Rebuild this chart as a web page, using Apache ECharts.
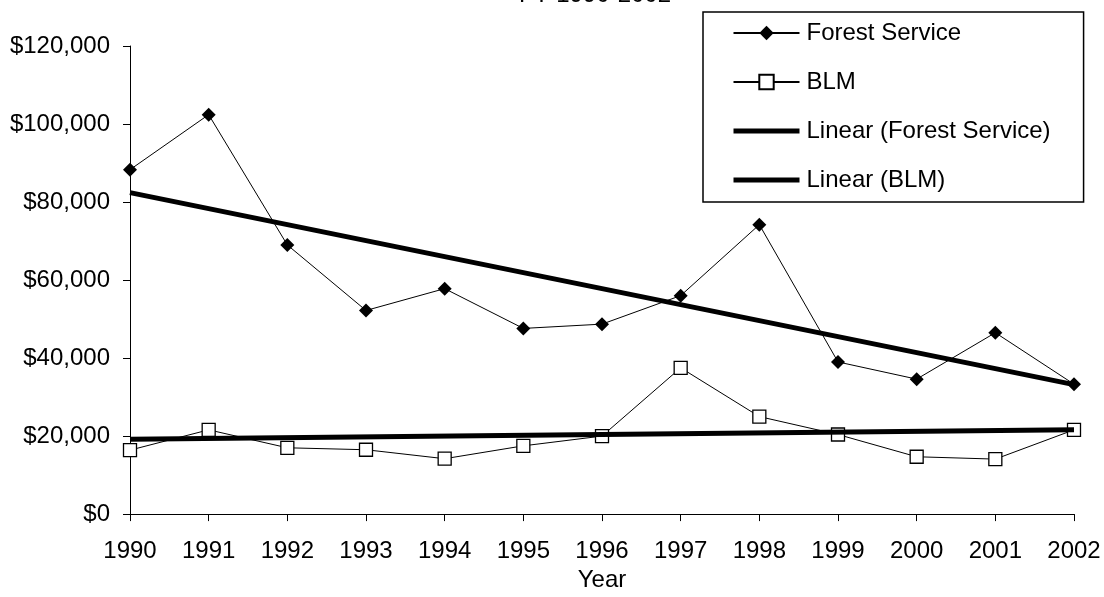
<!DOCTYPE html>
<html>
<head>
<meta charset="utf-8">
<script src="https://cdn.jsdelivr.net/npm/echarts@6/dist/echarts.min.js"></script>
<style>
html,body{margin:0;padding:0;background:#fff;}
#chart{width:1104px;height:597px;}
</style>
</head>
<body>
<div id="chart"></div>
<script>
const years = ['1990','1991','1992','1993','1994','1995','1996','1997','1998','1999','2000','2001','2002'];
const forestService = [88300, 102400, 69000, 52200, 57800, 47600, 48700, 56000, 74200, 39000, 34600, 46500, 33300];
const blm = [16400, 21600, 17000, 16500, 14200, 17500, 20000, 37500, 25000, 20400, 14700, 14100, 21600];
const forestTrendEnds = [82400, 33200];
const blmTrendEnds = [19200, 21600];
const yTicks = [0, 20000, 40000, 60000, 80000, 100000, 120000];

const FONT = 'Liberation Sans, Arial, sans-serif';
const chart = echarts.init(document.getElementById('chart'));
const fmt = v => '$' + v.toLocaleString('en-US');
const TREND_W = 5;

chart.setOption({
  backgroundColor: '#fff',
  animation: false,
  title: {
    text: 'FY 1990-2002',
    left: 590, top: -22, textAlign: 'center',
    textStyle: { fontFamily: FONT, fontSize: 24, fontWeight: 'normal', color: '#000' }
  },
  grid: { left: 130, right: 30, top: 46, bottom: 70, containLabel: false },
  legend: {
    orient: 'vertical',
    left: 703, top: 12,
    padding: [9, 33, 10, 28],
    itemGap: 25,
    itemWidth: 66, itemHeight: 18,
    borderColor: '#000', borderWidth: 1.5,
    backgroundColor: '#fff',
    textStyle: { fontFamily: FONT, fontSize: 24, color: '#000', padding: [0, 0, 0, 2] },
    data: [
      { name: 'Forest Service' },
      { name: 'BLM' },
      { name: 'Linear (Forest Service)', itemStyle: { opacity: 0 }, lineStyle: { width: TREND_W, color: '#000' } },
      { name: 'Linear (BLM)', itemStyle: { opacity: 0 }, lineStyle: { width: TREND_W, color: '#000' } }
    ]
  },
  xAxis: {
    type: 'category',
    data: years,
    boundaryGap: false,
    name: 'Year',
    nameLocation: 'middle',
    nameGap: 47,
    nameTextStyle: { fontFamily: FONT, fontSize: 24, color: '#000' },
    axisLine: { lineStyle: { color: '#000', width: 1 } },
    axisTick: { show: true, length: 7, inside: false, alignWithLabel: true, lineStyle: { color: '#000' } },
    axisLabel: { fontFamily: FONT, fontSize: 24, color: '#000', margin: 25, interval: 0 },
    splitLine: { show: false }
  },
  yAxis: {
    type: 'value',
    min: yTicks[0], max: yTicks[yTicks.length - 1], interval: yTicks[1] - yTicks[0],
    axisLine: { show: true, lineStyle: { color: '#000', width: 1 } },
    axisTick: { show: true, length: 7, lineStyle: { color: '#000' } },
    axisLabel: { fontFamily: FONT, fontSize: 24, color: '#000', margin: 20, formatter: fmt },
    splitLine: { show: false }
  },
  series: [
    {
      name: 'Forest Service', type: 'line', data: forestService,
      symbol: 'diamond', symbolSize: 14,
      lineStyle: { color: '#000', width: 1 },
      itemStyle: { color: '#000', borderColor: '#000', borderWidth: 0 },
      z: 2
    },
    {
      name: 'BLM', type: 'line', data: blm,
      symbol: 'rect', symbolSize: 13,
      lineStyle: { color: '#000', width: 1 },
      itemStyle: { color: '#fff', borderColor: '#000', borderWidth: 1.3 },
      z: 2
    },
    {
      name: 'Linear (Forest Service)', type: 'line',
      data: [[years[0], forestTrendEnds[0]], [years[years.length - 1], forestTrendEnds[1]]],
      symbol: 'none',
      lineStyle: { color: '#000', width: TREND_W },
      itemStyle: { color: '#000' },
      z: 3
    },
    {
      name: 'Linear (BLM)', type: 'line',
      data: [[years[0], blmTrendEnds[0]], [years[years.length - 1], blmTrendEnds[1]]],
      symbol: 'none',
      lineStyle: { color: '#000', width: TREND_W },
      itemStyle: { color: '#000' },
      z: 3
    }
  ]
});
</script>
</body>
</html>
